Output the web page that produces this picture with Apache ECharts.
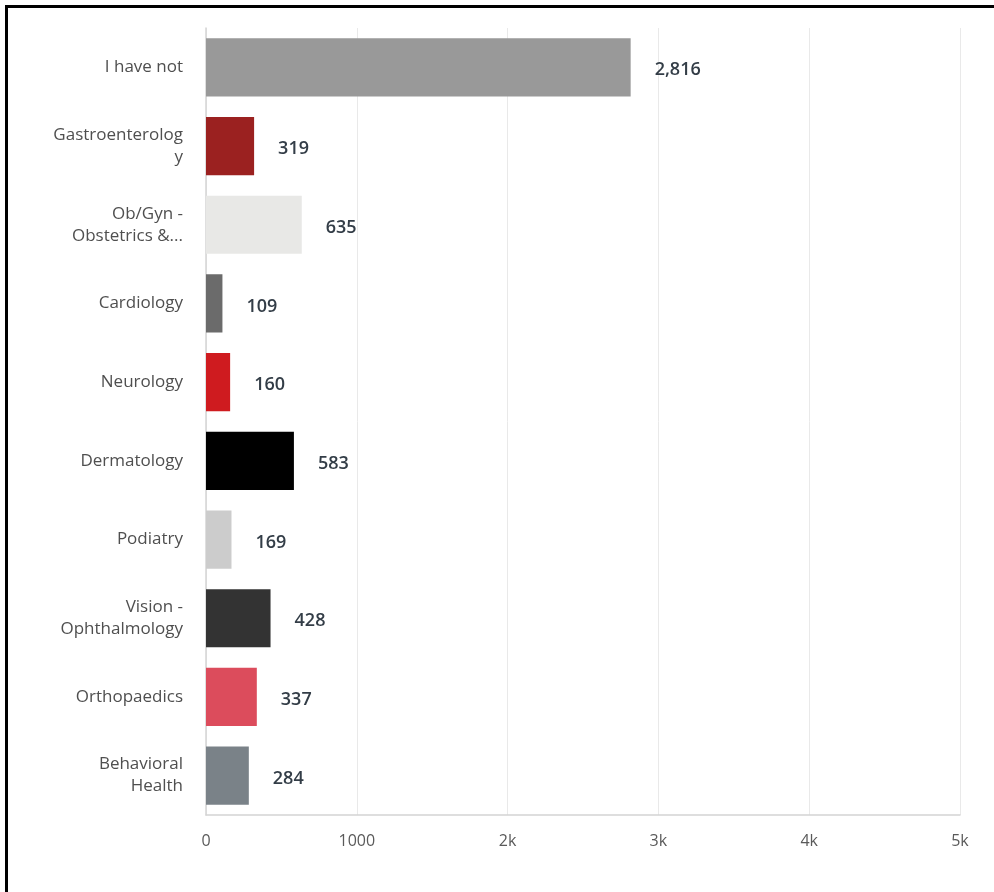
<!DOCTYPE html>
<html>
<head>
<meta charset="utf-8">
<title>Specialists visited</title>
<script src="https://cdn.jsdelivr.net/npm/echarts@6/dist/echarts.min.js"></script>
<style>
  html, body { margin: 0; padding: 0; background: #fff; }
  #frame {
    position: absolute; left: 5px; top: 5px; width: 994px; height: 892px;
    border-top: 3px solid #000; border-left: 3px solid #000; box-sizing: border-box;
  }
  #chart { position: absolute; left: 0; top: 0; width: 994px; height: 892px; }
</style>
</head>
<body>
<div id="frame"></div>
<div id="chart"></div>
<script>
// Answer options, top to bottom
const categories = [
  'I have not',
  'Gastroenterolog\ny',
  'Ob/Gyn -\nObstetrics &...',
  'Cardiology',
  'Neurology',
  'Dermatology',
  'Podiatry',
  'Vision -\nOphthalmology',
  'Orthopaedics',
  'Behavioral\nHealth'
];
const responses = [2816, 319, 635, 109, 160, 583, 169, 428, 337, 284];
const barColors = [
  '#999999', '#9b2120', '#e8e8e6', '#6b6b6b', '#cf1b1f',
  '#000000', '#cccccc', '#333333', '#dc4c5c', '#7a8288'
];
const xTickLabels = ['0', '1000', '2k', '3k', '4k', '5k'];

const chart = echarts.init(document.getElementById('chart'), null, { renderer: 'canvas' });
chart.setOption({
  animation: false,
  grid: { left: 206, right: 34, top: 28, bottom: 77, containLabel: false, outerBoundsMode: 'none' },
  xAxis: {
    type: 'value',
    min: 0, max: 5000, interval: 1000,
    axisLine: { show: true, lineStyle: { color: '#d4d4d4', width: 1.5 } },
    axisTick: { show: false },
    splitLine: { show: true, lineStyle: { color: '#e9e9e9', width: 1 } },
    axisLabel: {
      margin: 18,
      color: '#5a5a5a',
      fontSize: 16,
      fontFamily: 'Open Sans',
      formatter: v => xTickLabels[Math.round(v / 1000)]
    }
  },
  yAxis: {
    type: 'category',
    inverse: true,
    data: categories,
    axisLine: { show: true, lineStyle: { color: '#d4d4d4', width: 1.5 } },
    axisTick: { show: false },
    axisLabel: {
      margin: 23,
      color: '#4f4f4f',
      fontSize: 17,
      lineHeight: 22,
      padding: [6, 0, 0, 0],
      fontFamily: 'Open Sans',
      align: 'right'
    }
  },
  series: [{
    type: 'bar',
    barCategoryGap: '26%',
    data: responses.map((v, i) => ({ value: v, itemStyle: { color: barColors[i] } })),
    label: {
      show: true,
      position: 'right',
      distance: 24,
      offset: [0, 3],
      color: '#333d47',
      fontSize: 18,
      fontWeight: 600,
      fontFamily: 'Open Sans',
      formatter: p => p.value.toLocaleString('en-US')
    }
  }]
});
</script>
</body>
</html>
